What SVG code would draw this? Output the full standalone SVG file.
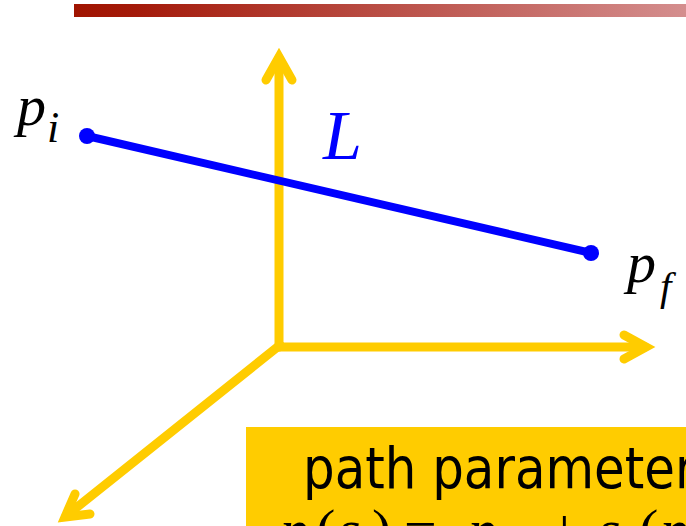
<svg xmlns="http://www.w3.org/2000/svg" width="686" height="526" viewBox="0 0 686 526">
  <defs>
    <linearGradient id="bar" x1="0" y1="0" x2="1" y2="0">
      <stop offset="0" stop-color="#A01400"/>
      <stop offset="0.1" stop-color="#A41A0A"/>
      <stop offset="1" stop-color="#D48E8E"/>
    </linearGradient>
    <style>
      .axis { fill: none; stroke: #FFCC00; stroke-width: 9; stroke-linecap: round; stroke-linejoin: miter; }
      .line { fill: none; stroke: #0000FF; stroke-width: 8; }
      .dot { fill: #0000FF; }
      .math { font-family: "Liberation Serif", "DejaVu Serif", serif; font-style: italic; }
      .box { fill: #FFCC00; }
      .boxtext { font-family: "DejaVu Sans", "Liberation Sans", sans-serif; font-size: 57px; fill: #000; }
    </style>
  </defs>
  <rect x="0" y="0" width="686" height="526" fill="#FFFFFF"/>
  <rect x="74" y="4" width="612" height="13" fill="url(#bar)"/>

  <g id="connectors">
    <g id="axis-z">
      <path class="axis" d="M279,347 L279,58" stroke-linecap="butt"/>
      <path class="axis" d="M266,80 L279,57 L292,80"/>
    </g>
    <g id="axis-x">
      <path class="axis" d="M279,347 L645,347" stroke-linecap="butt"/>
      <path class="axis" d="M624,335 L646,347 L624,359"/>
    </g>
    <g id="axis-y">
      <path class="axis" d="M280,345 L66,516" stroke-linecap="butt"/>
      <path class="axis" d="M75,494 L65,517 L90,514"/>
    </g>
    <g id="line-L">
      <line class="line" x1="87" y1="136" x2="591" y2="253"/>
    </g>
  </g>

  <g id="node-pi">
    <circle class="dot" cx="87" cy="136" r="8"/>
    <text class="math" x="17" y="125" font-size="58">p</text>
    <text class="math" x="47" y="142" font-size="44">i</text>
  </g>
  <g id="node-pf">
    <circle class="dot" cx="591" cy="253" r="8"/>
    <text class="math" x="627" y="282" font-size="58">p</text>
    <text class="math" x="660" y="300" font-size="41">f</text>
  </g>
  <g id="label-L">
    <text class="math" x="323" y="159" font-size="70" fill="#0000FF">L</text>
  </g>

  <g id="node-box">
    <rect class="box" x="246" y="427" width="440" height="99"/>
    <text class="boxtext" transform="translate(303,488) scale(0.875,1)" x="0" y="0">path parameter</text>
    <text class="math" y="549" font-size="58"><tspan x="280">p</tspan><tspan x="316" font-style="normal">(</tspan><tspan x="338">s</tspan><tspan x="372" font-style="normal">)</tspan><tspan x="404" font-style="normal">=</tspan><tspan x="468">p</tspan><tspan x="548" font-style="normal">+</tspan><tspan x="598">s</tspan><tspan x="639" font-style="normal">(</tspan><tspan x="660">p</tspan></text>
  </g>
</svg>
